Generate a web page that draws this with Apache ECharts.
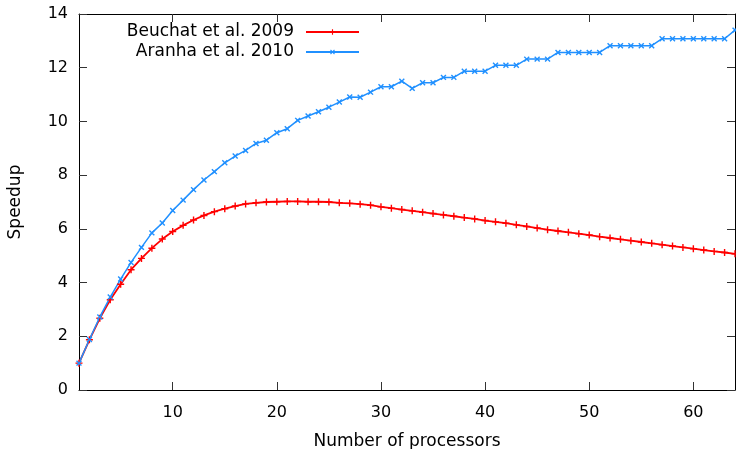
<!DOCTYPE html>
<html>
<head>
<meta charset="utf-8">
<script src="https://cdn.jsdelivr.net/npm/echarts@6/dist/echarts.min.js"></script>
<style>html,body{margin:0;padding:0;background:#fff}#c{width:736px;height:449px}</style>
</head>
<body>
<div id="c"></div>
<script>
var processors = [1,2,3,4,5,6,7,8,9,10,11,12,13,14,15,16,17,18,19,20,21,22,23,24,25,26,27,28,29,30,31,32,33,34,35,36,37,38,39,40,41,42,43,44,45,46,47,48,49,50,51,52,53,54,55,56,57,58,59,60,61,62,63,64];
var beuchat2009 = [1.00,1.87,2.67,3.36,3.94,4.48,4.90,5.28,5.62,5.90,6.13,6.33,6.50,6.64,6.75,6.85,6.93,6.97,7.00,7.01,7.02,7.02,7.01,7.01,7.00,6.97,6.95,6.92,6.88,6.82,6.77,6.72,6.67,6.62,6.57,6.52,6.47,6.42,6.37,6.31,6.26,6.21,6.15,6.09,6.03,5.97,5.92,5.87,5.82,5.77,5.71,5.66,5.61,5.56,5.51,5.46,5.41,5.36,5.31,5.26,5.21,5.16,5.12,5.07];
var aranha2010 = [1.00,1.88,2.72,3.46,4.13,4.75,5.31,5.85,6.22,6.68,7.07,7.46,7.82,8.13,8.46,8.71,8.92,9.18,9.30,9.58,9.73,10.04,10.20,10.36,10.53,10.72,10.91,10.90,11.09,11.29,11.29,11.50,11.23,11.44,11.44,11.64,11.64,11.87,11.87,11.87,12.09,12.09,12.09,12.32,12.32,12.32,12.57,12.57,12.57,12.57,12.57,12.82,12.82,12.82,12.82,12.82,13.08,13.08,13.08,13.08,13.08,13.08,13.08,13.40];
var xTickValues = [10,20,30,40,50,60];
var seriesNames = ['Beuchat et al. 2009', 'Aranha et al. 2010'];
var xTitle = 'Number of processors';
var yTitle = 'Speedup';

function pairs(ys){ return processors.map(function(x,i){ return [x, ys[i]]; }); }

var FONT = 'DejaVu Sans';
var FS = 16;
var FS2 = 17;
var plus = 'path://M-1,-5H1V-1H5V1H1V5H-1V1H-5V-1H-1Z';
var tick = {show:true, inside:true, length:8, lineStyle:{color:'#333', width:1}};
var line = {show:true, onZero:false, lineStyle:{color:'#000', width:1}};

var chart = echarts.init(document.getElementById('c'), null, {renderer:'canvas'});
chart.setOption({
  animation: false,
  backgroundColor: '#fff',
  textStyle: {fontFamily: FONT},
  grid: {left: 79, right: 1, top: 14, bottom: 59, containLabel: false, outerBoundsMode: 'none'},
  legend: {
    orient: 'vertical',
    align: 'right',
    right: 376,
    top: 22,
    padding: 0,
    itemGap: 0,
    itemWidth: 53,
    itemHeight: 7,
    data: seriesNames,
    textStyle: {fontFamily: FONT, fontSize: FS2, color: '#000', lineHeight: 20, padding: [0, 7, 0, 0]}
  },
  xAxis: [{
    type: 'value', min: 1, max: 64,
    name: xTitle, nameLocation: 'middle', nameGap: 43,
    nameTextStyle: {fontFamily: FONT, fontSize: FS2, color: '#000'},
    axisLine: line,
    axisTick: Object.assign({customValues: xTickValues}, tick),
    axisLabel: {customValues: xTickValues, fontFamily: FONT, fontSize: FS, color: '#000', margin: 15},
    splitLine: {show: false}
  }, {
    type: 'value', min: 1, max: 64, position: 'top',
    axisLine: line,
    axisTick: Object.assign({customValues: xTickValues}, tick),
    axisLabel: {show: false},
    splitLine: {show: false}
  }],
  yAxis: [{
    type: 'value', min: 0, max: 14, interval: 2,
    name: yTitle, nameLocation: 'middle', nameGap: 55, nameRotate: 90,
    nameTextStyle: {fontFamily: FONT, fontSize: FS2, color: '#000'},
    axisLine: line, axisTick: tick,
    axisLabel: {fontFamily: FONT, fontSize: FS, color: '#000', margin: 11},
    splitLine: {show: false}
  }, {
    type: 'value', min: 0, max: 14, interval: 2, position: 'right',
    axisLine: line, axisTick: tick,
    axisLabel: {show: false},
    splitLine: {show: false}
  }],
  series: [{
    name: seriesNames[0], type: 'line', data: pairs(beuchat2009),
    symbol: plus, symbolSize: 7, showAllSymbol: true,
    itemStyle: {color: '#ff0000'},
    lineStyle: {color: '#ff0000', width: 1.8},
    emphasis: {disabled: true}
  }, {
    name: seriesNames[1], type: 'line', data: pairs(aranha2010),
    symbol: plus, symbolSize: 7, symbolRotate: 45, showAllSymbol: true,
    itemStyle: {color: '#2090ff'},
    lineStyle: {color: '#2090ff', width: 1.5},
    emphasis: {disabled: true}
  }]
});
</script>
</body>
</html>
